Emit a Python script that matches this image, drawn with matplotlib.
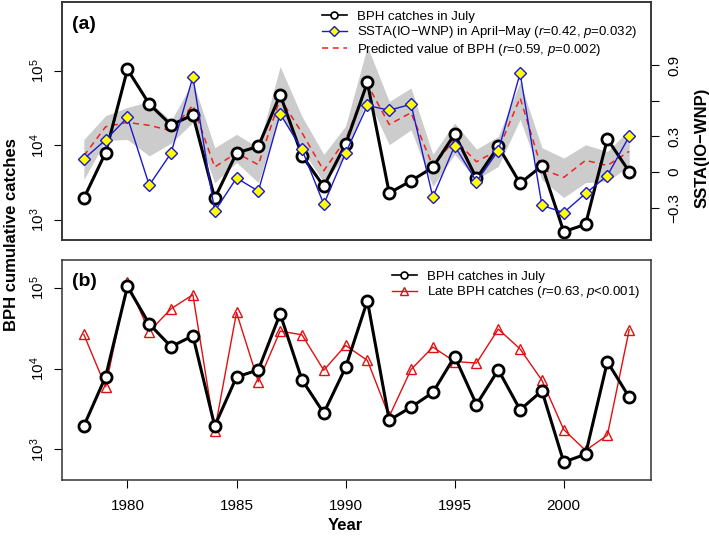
import matplotlib.pyplot as plt
import numpy as np
from matplotlib.lines import Line2D

plt.rcParams['font.family'] = ['Liberation Sans', 'DejaVu Sans']
plt.rcParams['mathtext.fontset'] = 'custom'
plt.rcParams['mathtext.rm'] = 'Liberation Sans'
plt.rcParams['mathtext.it'] = 'Liberation Sans:italic'
plt.rcParams['mathtext.bf'] = 'Liberation Sans:bold'

years = list(range(1978, 2004))

# BPH catches in July
july = [1950, 8000, 105000, 36000, 18800, 25700, 1950, 7900, 9700, 48000,
        7300, 2820, 10400, 70000, 2300, 3340, 5080, 14200, 3600, 9700,
        3100, 5330, 695, 870, 12200, 4450]

# late BPH catches
late = [26700, 6000, 118000, 29000, 55600, 83000, 1710, 50000, 6900, 29400,
        26400, 9600, 19500, 12700, 2560, 9800, 18600, 12300, 11800, 31100,
        17600, 7200, 1760, 970, 1500, 30500]

# SSTA(IO-WNP) in April-May
ssta = [0.11, 0.27, 0.46, -0.11, 0.16, 0.80, -0.33, -0.05, -0.16, 0.49,
        0.19, -0.27, 0.16, 0.56, 0.52, 0.57, -0.21, 0.22, -0.08, 0.18,
        0.83, -0.28, -0.34, -0.18, -0.03, 0.30]

# predicted BPH and its band
pred = [7240, 17800, 20400, 18600, 15800, 34700, 5130, 7940, 5500, 42700,
        14800, 4570, 12000, 66100, 19100, 27500, 5250, 12000, 6030, 8710,
        43600, 4790, 3720, 6310, 5370, 8320]
pred_hi = [12000, 25100, 32400, 38900, 21400, 72400, 9330, 14100, 9330, 115000,
           24500, 7590, 18200, 214000, 38900, 58900, 7590, 20000, 8910, 13200,
           70800, 9330, 6760, 10200, 8320, 16200]
pred_lo = [3470, 11700, 12000, 7240, 10700, 20400, 3160, 5890, 3160, 26300,
           8910, 3160, 7240, 43600, 10200, 16200, 2820, 7590, 3470, 5250,
           22400, 3470, 2000, 3160, 3310, 5250]

fig = plt.figure(figsize=(7.09, 5.38), dpi=100)
ax_a = fig.add_axes([62/709, 1-240/538, 589/709, 238/538])
ax_b = fig.add_axes([62/709, 1-480/538, 589/709, 220/538])

def log_axis(ax, lo, hi):
    ax.set_yscale('log')
    ax.set_ylim(10**lo, 10**hi)
    ax.set_yticks([1e3, 1e4, 1e5])
    ax.set_yticklabels(['$10^3$', '$10^4$', '$10^5$'])
    ax.yaxis.set_minor_locator(plt.NullLocator())
    ax.tick_params(axis='y', labelrotation=90, labelsize=11, length=6, pad=5)
    for lbl in ax.get_yticklabels():
        lbl.set_va('center')
    ax.set_xlim(1977.0, 2004.0)
    for s in ax.spines.values():
        s.set_linewidth(1.1)
        s.set_color('#333333')

# panel (a)
log_axis(ax_a, 2.73, 5.926)
ax_a.fill_between(years, pred_lo, pred_hi, color='#cccccc', lw=0, zorder=1)
ax_a.plot(years, pred, '--', color='#ee2222', lw=1.1, dashes=(4, 3), zorder=2)
ax_a.plot(years, july, '-o', color='black', lw=2.2, ms=8, mfc='white',
          mew=2, zorder=3)
ax_a.set_xticks([])
ax_a.text(0.017, 0.94, '(a)', transform=ax_a.transAxes, fontsize=14,
          fontweight='bold', va='top')

ax_s = ax_a.twinx()
ax_s.set_ylim(-0.571, 1.43)
ax_s.plot(years, ssta, '-D', color='#1a1acc', lw=1.0, ms=6, mfc='#ffff00',
          mec='#1a1acc', mew=1.0)
ax_s.set_yticks([-0.3, 0, 0.3, 0.6, 0.9])
ax_s.set_yticklabels(['\u22120.3', '0', '0.3', '', '0.9'])
ax_s.tick_params(axis='y', labelrotation=90, labelsize=11, length=6, pad=6)
for lbl in ax_s.get_yticklabels():
    lbl.set_va('center')
for s in ax_s.spines.values():
    s.set_linewidth(1.1)
    s.set_color('#333333')

handles_a = [
    Line2D([], [], color='black', lw=1.2, marker='o', ms=5, mfc='white', mew=1.2),
    Line2D([], [], color='#1a1acc', lw=1.0, marker='D', ms=5, mfc='#ffff00',
           mec='#1a1acc'),
    Line2D([], [], color='#ee2222', lw=1.1, ls='--', dashes=(4, 3)),
]
labels_a = [
    'BPH catches in July',
    'SSTA(IO\u2212WNP) in April\u2212May ($r$=0.42, $p$=0.032)',
    'Predicted value of BPH ($r$=0.59, $p$=0.002)',
]
ax_s.legend(handles_a, labels_a, loc='upper left', bbox_to_anchor=(0.441, 0.965),
            frameon=False, fontsize=9.5, handlelength=1.9, handletextpad=0.8,
            labelspacing=0.12, borderpad=0, borderaxespad=0)

# panel (b)
log_axis(ax_b, 2.62, 5.35)
ax_b.plot(years, late, '-^', color='#e01010', lw=1.0, ms=7, mfc='none',
          mec='#e01010', mew=1.0, zorder=2)
ax_b.plot(years, july, '-o', color='black', lw=2.2, ms=8, mfc='white',
          mew=2, zorder=3)
ax_b.set_xticks([1980, 1985, 1990, 1995, 2000])
ax_b.tick_params(axis='x', labelsize=11, length=6, pad=8)
ax_b.text(0.017, 0.94, '(b)', transform=ax_b.transAxes, fontsize=14,
          fontweight='bold', va='top')

handles_b = [
    Line2D([], [], color='black', lw=1.2, marker='o', ms=5, mfc='white', mew=1.2),
    Line2D([], [], color='#e01010', lw=1.0, marker='^', ms=6, mfc='none',
           mec='#e01010'),
]
labels_b = [
    'BPH catches in July',
    'Late BPH catches ($r$=0.63, $p$<0.001)',
]
ax_b.legend(handles_b, labels_b, loc='upper left', bbox_to_anchor=(0.560, 0.952),
            frameon=False, fontsize=9.5, handlelength=1.9, handletextpad=0.8,
            labelspacing=0.12, borderpad=0, borderaxespad=0)

fig.text(12/709, 1-235/538, 'BPH cumulative catches', rotation=90,
         fontsize=12, fontweight='bold', ha='center', va='center')
fig.text(702/709, 1-148/538, 'SSTA(IO\u2212WNP)', rotation=90,
         fontsize=12, fontweight='bold', ha='center', va='center')
fig.text(345/709, 1-526/538, 'Year', fontsize=12, fontweight='bold',
         ha='center', va='center')

fig.savefig('out.png', dpi=100)
